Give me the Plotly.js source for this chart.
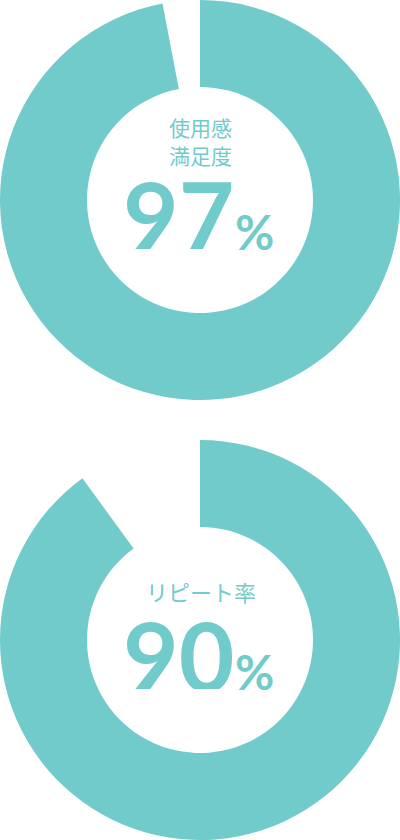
<!DOCTYPE html>
<html>
<head>
<meta charset="utf-8">
<script src="https://cdn.plot.ly/plotly-3.0.1.min.js"></script>
<style>
html,body{margin:0;padding:0;background:#fff;}
#chart{width:400px;height:840px;}
</style>
</head>
<body>
<div id="chart"></div>
<script>
// Data
const metricLabels = ['使用感<br>満足度', 'リピート率'];
const metricValues = [97, 90];
const totalValue = 100;

const teal = '#72CBCB';
const W = 400, H = 840;

const domains = [
  {x: [0, 1], y: [1 - 400 / H, 1]},
  {x: [0, 1], y: [0, 400 / H]}
];

const traces = metricValues.map((v, i) => ({
  type: 'pie',
  values: [v, totalValue - v],
  labels: ['a' + i, 'b' + i],
  domain: domains[i],
  hole: 0.565,
  sort: false,
  direction: 'clockwise',
  rotation: 0,
  marker: {colors: [teal, 'rgba(255,255,255,0)'], line: {width: 0}},
  textinfo: 'none',
  hoverinfo: 'none',
  showlegend: false
}));

const px = x => x / W;
const py = y => 1 - y / H;

const labelY = [141, 591];
const labelH = [56, 26];
const numY = [214, 654];

const annotations = [];
metricValues.forEach((v, i) => {
  annotations.push({
    x: px(201), y: py(labelY[i]), xref: 'paper', yref: 'paper',
    text: metricLabels[i], showarrow: false, xanchor: 'center', yanchor: 'middle',
    height: labelH[i],
    font: {family: '"Noto Sans CJK JP", sans-serif', size: i === 0 ? 21 : 22, color: teal},
    align: 'center'
  });
  annotations.push({
    x: px(178), y: py(numY[i]), xref: 'paper', yref: 'paper',
    text: String(v), showarrow: false, xanchor: 'center', yanchor: 'middle',
    height: 70,
    font: {family: 'Lato, sans-serif', size: 96, color: teal, weight: 'bold'}
  });
  annotations.push({
    x: px(255), y: py(numY[i] + 17), xref: 'paper', yref: 'paper',
    text: '%', showarrow: false, xanchor: 'center', yanchor: 'middle',
    height: 38,
    font: {family: 'Lato, sans-serif', size: 48, color: teal, weight: 'bold'}
  });
});

Plotly.newPlot('chart', traces, {
  width: W, height: H,
  margin: {l: 0, r: 0, t: 0, b: 0},
  paper_bgcolor: '#fff',
  annotations: annotations
}, {staticPlot: true});
</script>
</body>
</html>
